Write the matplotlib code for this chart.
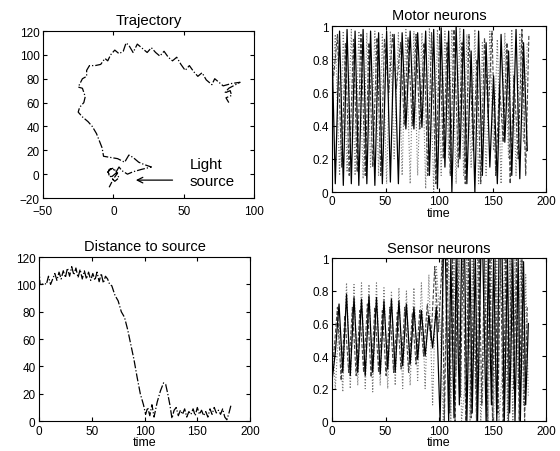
import numpy as np
import matplotlib
matplotlib.use("Agg")
import matplotlib.pyplot as plt

plt.rcParams['font.family'] = ['Liberation Sans', 'DejaVu Sans']

# Trajectory of the robot (x, y)
traj_x = [82, 80, 84, 83, 79, 82, 90, 84, 78, 76,
          72, 70, 66, 63, 60, 57, 54, 51, 48, 45,
          42, 39, 36, 33, 30, 27, 24, 21, 17, 14,
          11, 9, 7, 4, 1, -2, -4, -6, -9, -13,
          -17, -19, -19, -22, -25, -22, -20, -21, -24, -25,
          -22, -18, -15, -12, -10, -8, -7, -2, 3, 8,
          11, 14, 18, 22, 27, 20, 14, 10, 6, 4,
          2, 0, -3, -4, -1, 2, 4, 1, -2, -4,
          -1, 3, 0, -3]
traj_y = [60, 64, 66, 70, 68, 72, 77, 76, 74, 76,
          80, 75, 79, 85, 82, 86, 91, 87, 92, 98,
          95, 98, 103, 99, 102, 106, 102, 105, 109, 102,
          108, 110, 103, 101, 104, 100, 95, 97, 92, 91,
          91, 87, 82, 80, 73, 72, 65, 60, 56, 52,
          48, 44, 40, 34, 28, 22, 15, 14, 13, 10,
          16, 14, 10, 8, 6, 4, 2, 0, 3, 6,
          2, 5, 4, 0, -2, 1, -3, -6, -2, 2,
          5, 1, -4, -11]

# Distance to source over time
dist_t = [0, 1, 3, 5, 7, 9, 11, 13, 15, 17,
          19, 21, 23, 25, 27, 29, 31, 33, 35, 37,
          39, 41, 43, 45, 47, 49, 51, 53, 55, 57,
          59, 61, 63, 65, 67, 69, 72, 75, 78, 81,
          84, 87, 90, 93, 96, 99, 101, 103, 105, 107,
          109, 112, 115, 118, 120, 122, 124, 126, 128, 130,
          132, 134, 136, 138, 140, 142, 144, 146, 148, 150,
          152, 154, 156, 158, 160, 162, 164, 166, 168, 170,
          172, 174, 176, 178, 180, 182]
dist_v = [113, 100, 100, 101, 100, 106, 100, 104, 108, 103,
          109, 104, 110, 105, 112, 106, 113, 107, 112, 105,
          111, 104, 110, 104, 109, 103, 108, 103, 109, 102,
          108, 101, 106, 104, 100, 99, 92, 88, 80, 76,
          67, 56, 45, 32, 20, 12, 5, 10, 4, 12,
          3, 14, 22, 28, 27, 20, 12, 2, 8, 10,
          4, 8, 5, 9, 3, 7, 5, 9, 4, 10,
          5, 8, 4, 7, 3, 9, 5, 10, 6, 8,
          5, 9, 3, 1, 6, 12]

# Motor neurons: turning points
motor_t = [0, 3, 7, 10.5, 14, 18, 21.5, 25, 29, 32.5,
           36, 40, 43.5, 47, 51, 54.5, 58, 62, 65.5, 69,
           73, 76.5, 80, 84, 87.5, 91, 95, 98.5, 102, 105.5,
           109, 112, 116, 119.5, 123, 126, 130, 133.5, 137, 140.5,
           144, 147.5, 151, 154.5, 158, 161.5, 165, 168, 172, 175.5,
           179, 182.5]
motor_a = [0.85, 0.05, 0.97, 0.04, 0.98, 0.05, 0.97, 0.04, 0.98, 0.05,
           0.97, 0.04, 0.96, 0.05, 0.97, 0.06, 0.95, 0.05, 0.96, 0.38,
           0.97, 0.38, 0.96, 0.39, 0.97, 0.10, 0.98, 0.02, 0.99, 0.15,
           0.97, 0.00, 1.00, 0.20, 0.98, 0.05, 0.85, 0.00, 0.97, 0.10,
           0.90, 0.15, 0.70, 0.05, 0.95, 0.30, 0.85, 0.10, 0.98, 0.08,
           0.90, 0.25]
motor_b = [0.60, 0.95, 0.10, 0.97, 0.12, 0.98, 0.10, 0.97, 0.08, 0.96,
           0.15, 0.97, 0.10, 0.95, 0.05, 0.97, 0.20, 0.96, 0.10, 0.98,
           0.05, 0.97, 0.10, 0.96, 0.02, 0.99, 0.00, 0.98, 0.10, 0.97,
           0.20, 0.98, 0.05, 0.99, 0.10, 0.95, 0.15, 0.98, 0.05, 0.90,
           0.10, 0.97, 0.25, 0.92, 0.05, 0.96, 0.20, 0.98, 0.10, 0.95,
           0.30, 0.90]
motor_tc = [1.5, 5, 9, 12.5, 16, 20, 23.5, 27, 31, 34.5,
            38, 42, 45.5, 49, 53, 56.5, 60, 64, 67.5, 71,
            75, 78.5, 82, 86, 89.5, 93, 97, 100.5, 104, 107.5,
            110.5, 114, 118, 121.5, 124.5, 128, 132, 135.5, 139, 142.5,
            146, 149.5, 153, 156.5, 160, 163.5, 166.5, 170, 174, 177.5,
            181, 184]
motor_c = [0.70, 0.95, 0.15, 0.90, 0.10, 0.92, 0.12, 0.95, 0.10, 0.90,
           0.15, 0.93, 0.10, 0.92, 0.60, 0.95, 0.62, 0.90, 0.40, 0.93,
           0.40, 0.95, 0.38, 0.90, 0.10, 0.96, 0.05, 0.95, 0.20, 0.90,
           0.10, 0.98, 0.15, 0.90, 0.05, 0.95, 0.25, 0.80, 0.05, 0.93,
           0.45, 0.97, 0.10, 0.65, 0.30, 0.90, 0.05, 0.70, 0.20, 0.98,
           0.10, 0.95]

# Sensor neurons: turning points
sensor_t = [0, 3, 6.5, 10, 13.5, 17, 20.5, 24, 27.5, 31,
            34.5, 38, 41.5, 45, 48.5, 52, 55.5, 59, 62.5, 66,
            69.5, 73, 76.5, 80, 83.5, 87, 90.5, 94, 97.5, 101,
            104, 106, 109, 111, 114, 116, 119, 121, 124, 126,
            129, 131, 134, 136, 139, 141, 144, 146, 149, 151,
            154, 156, 159, 161, 164, 166, 169, 171, 174, 176,
            179, 181, 183.5]
sensor_a = [0.25, 0.42, 0.72, 0.30, 0.78, 0.28, 0.76, 0.30, 0.75, 0.28,
            0.77, 0.30, 0.76, 0.29, 0.74, 0.32, 0.75, 0.30, 0.74, 0.34,
            0.72, 0.35, 0.70, 0.38, 0.68, 0.40, 0.65, 0.45, 0.70, 0.00,
            1.00, 1.00, 0.00, 1.00, 0.02, 1.00, 0.10, 1.00, 1.00, 0.00,
            1.00, 0.05, 1.00, 0.00, 1.00, 1.00, 0.00, 1.00, 0.10, 1.00,
            0.00, 1.00, 1.00, 0.00, 1.00, 0.05, 1.00, 0.00, 1.00, 0.00,
            0.98, 0.10, 0.60]
sensor_b = [0.55, 0.20, 0.60, 0.18, 0.85, 0.20, 0.84, 0.22, 0.85, 0.20,
            0.84, 0.18, 0.85, 0.22, 0.82, 0.20, 0.80, 0.22, 0.82, 0.20,
            0.80, 0.22, 0.82, 0.25, 0.85, 0.20, 0.90, 0.10, 0.95, 0.60,
            0.00, 0.50, 1.00, 0.00, 1.00, 0.30, 1.00, 0.00, 0.20, 1.00,
            0.00, 1.00, 0.20, 1.00, 0.00, 0.20, 1.00, 0.00, 1.00, 0.00,
            1.00, 0.00, 0.30, 1.00, 0.00, 1.00, 0.00, 1.00, 0.20, 1.00,
            0.10, 0.90, 0.15]
sensor_tc = [1.5, 5, 8.5, 12, 15.5, 19, 22.5, 26, 29.5, 33,
             36.5, 40, 43.5, 47, 50.5, 54, 57.5, 61, 64.5, 68,
             71.5, 75, 78.5, 82, 85.5, 89, 92.5, 96, 99.5, 103,
             105, 107.5, 110, 112.5, 115, 117.5, 120, 122.5, 125, 127.5,
             130, 132.5, 135, 137.5, 140, 142.5, 145, 147.5, 150, 152.5,
             155, 157.5, 160, 162.5, 165, 167.5, 170, 172.5, 175, 177.5,
             180, 182.5]
sensor_c = [0.40, 0.70, 0.25, 0.65, 0.30, 0.70, 0.28, 0.68, 0.30, 0.72,
            0.27, 0.70, 0.30, 0.68, 0.28, 0.70, 0.30, 0.67, 0.32, 0.70,
            0.30, 0.66, 0.35, 0.68, 0.40, 0.72, 0.50, 0.95, 0.55, 1.00,
            0.00, 1.00, 0.05, 1.00, 0.00, 1.00, 0.15, 1.00, 0.00, 1.00,
            0.02, 1.00, 0.00, 1.00, 0.10, 1.00, 0.00, 1.00, 0.00, 1.00,
            0.05, 1.00, 0.00, 1.00, 0.00, 1.00, 0.20, 1.00, 0.00, 1.00,
            0.00, 0.70]

fig = plt.figure(figsize=(5.6, 4.52), dpi=100)

ax1 = fig.add_axes([0.0768, 0.5597, 0.377, 0.3695])
ax2 = fig.add_axes([0.593, 0.573, 0.382, 0.367])
ax3 = fig.add_axes([0.0696, 0.066, 0.377, 0.363])
ax4 = fig.add_axes([0.593, 0.066, 0.382, 0.36])

for ax in (ax1, ax2, ax3, ax4):
    ax.tick_params(direction='in', length=3, labelsize=8.5, pad=2.5,
                   top=True, right=True)
    for s in ax.spines.values():
        s.set_linewidth(0.8)

# Trajectory
ax1.plot(traj_x, traj_y, color='black', lw=0.9, ls='-.')
ax1.set_xlim(-50, 100)
ax1.set_ylim(-20, 120)
ax1.set_xticks([-50, 0, 50, 100])
ax1.set_yticks(np.arange(-20, 121, 20))
ax1.tick_params(axis='x', pad=5)
ax1.set_title('Trajectory', fontsize=10.8, pad=5)
ax1.annotate('', xy=(14, -5), xytext=(44, -5),
             arrowprops=dict(arrowstyle='->', color='black', lw=0.9))
ax1.text(54, 8.5, 'Light', fontsize=10.8, va='center')
ax1.text(54, -5.7, 'source', fontsize=10.8, va='center')

# Motor neurons
ax2.plot(motor_t, motor_b, color='#777777', lw=0.8, ls=':')
ax2.plot(motor_tc, motor_c, color='#444444', lw=0.8, ls='--')
ax2.plot(motor_t, motor_a, color='black', lw=0.9)
ax2.set_xlim(0, 200)
ax2.set_ylim(0, 1)
ax2.set_xticks([0, 50, 100, 150, 200])
ax2.set_yticks([0, 0.2, 0.4, 0.6, 0.8, 1])
ax2.set_yticklabels(['0', '0.2', '0.4', '0.6', '0.8', '1'])
ax2.set_title('Motor neurons', fontsize=10.5, pad=5)
ax2.set_xlabel('time', fontsize=9, labelpad=-0.5)

# Distance to source
ax3.plot(dist_t, dist_v, color='black', lw=0.9, ls='-.')
ax3.set_xlim(0, 200)
ax3.set_ylim(0, 120)
ax3.set_xticks([0, 50, 100, 150, 200])
ax3.set_yticks(np.arange(0, 121, 20))
ax3.set_title('Distance to source', fontsize=10.5, pad=5)
ax3.set_xlabel('time', fontsize=9, labelpad=-0.5)

# Sensor neurons
ax4.plot(sensor_t, sensor_b, color='#777777', lw=0.8, ls=':')
ax4.plot(sensor_tc, sensor_c, color='#444444', lw=0.8, ls='--')
ax4.plot(sensor_t, sensor_a, color='black', lw=0.9)
ax4.set_xlim(0, 200)
ax4.set_ylim(0, 1)
ax4.set_xticks([0, 50, 100, 150, 200])
ax4.set_yticks([0, 0.2, 0.4, 0.6, 0.8, 1])
ax4.set_yticklabels(['0', '0.2', '0.4', '0.6', '0.8', '1'])
ax4.set_title('Sensor neurons', fontsize=10.5, pad=5)
ax4.set_xlabel('time', fontsize=9, labelpad=-0.5)

fig.savefig('out.png', dpi=100)
